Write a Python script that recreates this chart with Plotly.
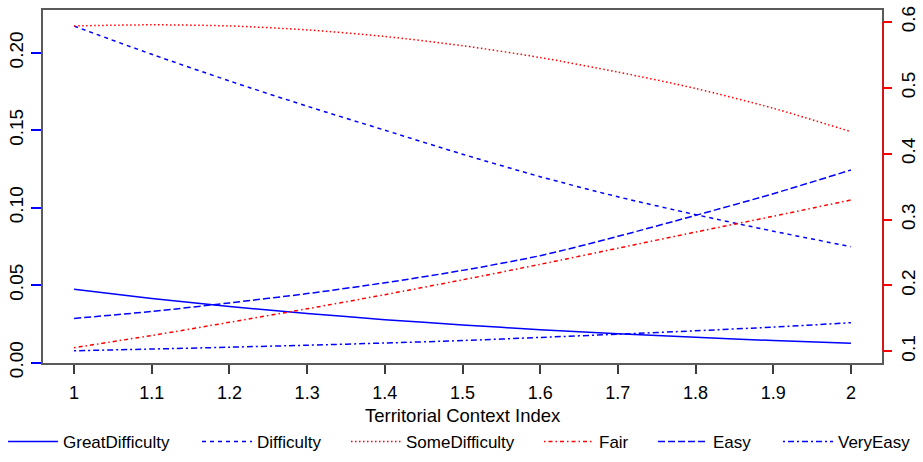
import plotly.graph_objects as go

x_vals = [1.0, 1.1, 1.2, 1.3, 1.4, 1.5, 1.6, 1.7, 1.8, 1.9, 2.0]

great_difficulty = [0.0473, 0.0414, 0.0362, 0.0317, 0.0277, 0.0243, 0.0212, 0.0186, 0.0163, 0.0142, 0.0124]
difficulty = [0.2172, 0.1990, 0.1818, 0.1655, 0.1500, 0.1345, 0.1200, 0.1070, 0.0955, 0.0848, 0.0748]
easy = [0.0285, 0.0330, 0.0385, 0.0445, 0.0515, 0.0595, 0.0690, 0.0815, 0.0950, 0.1090, 0.1243]
very_easy = [0.0076, 0.0087, 0.0099, 0.0112, 0.0126, 0.0142, 0.0162, 0.0183, 0.0205, 0.0229, 0.0257]
some_difficulty = [0.5940, 0.5957, 0.5940, 0.5880, 0.5780, 0.5640, 0.5460, 0.5240, 0.4990, 0.4690, 0.4334]
fair = [0.1055, 0.1240, 0.1440, 0.1645, 0.1860, 0.2085, 0.2320, 0.2565, 0.2810, 0.3050, 0.3297]

left_ticks = [0.00, 0.05, 0.10, 0.15, 0.20]
right_ticks = [0.1, 0.2, 0.3, 0.4, 0.5, 0.6]
x_ticks = [1.0, 1.1, 1.2, 1.3, 1.4, 1.5, 1.6, 1.7, 1.8, 1.9, 2.0]
x_tick_text = ["1", "1.1", "1.2", "1.3", "1.4", "1.5", "1.6", "1.7", "1.8", "1.9", "2"]
x_title = "Territorial Context Index"

BLUE = "rgb(0,0,255)"
RED = "rgb(255,0,0)"
FONT = "Liberation Sans, Arial, sans-serif"

# layout geometry (pixels)
W, H = 923, 462
ML, MR, MT, MB = 43, 41, 10, 99
PW, PH = W - ML - MR, H - MT - MB
legend_left_px = [3, 197, 346, 539, 653, 778]

fig = go.Figure()

series = [
    ("GreatDifficulty", great_difficulty, BLUE, "solid", "y"),
    ("Difficulty", difficulty, BLUE, "4px,4px", "y"),
    ("SomeDifficulty", some_difficulty, RED, "1.5px,2.5px", "y2"),
    ("Fair", fair, RED, "1.5px,3px,4px,3px", "y2"),
    ("Easy", easy, BLUE, "7px,3px", "y"),
    ("VeryEasy", very_easy, BLUE, "2px,3px,6px,3px", "y"),
]
legend_layouts = {}
for i, (name, vals, col, dash, ax) in enumerate(series):
    lg = "legend" if i == 0 else f"legend{i + 1}"
    fig.add_trace(go.Scatter(
        x=x_vals, y=vals, name=name, mode="lines", yaxis=ax, legend=lg,
        line=dict(color=col, width=1.5, dash=dash, shape="spline", smoothing=0.8),
    ))
    legend_layouts[lg] = dict(
        orientation="h", x=(legend_left_px[i] - ML) / PW, xanchor="left",
        y=-0.224, yanchor="middle",
        font=dict(size=17, color="black"), bgcolor="rgba(0,0,0,0)",
        itemwidth=50,
    )

fig.update_layout(
    width=W, height=H,
    margin=dict(l=ML, r=MR, t=MT, b=MB, autoexpand=False),
    paper_bgcolor="white", plot_bgcolor="white",
    font=dict(family=FONT, size=17, color="black"),
    showlegend=True,
    xaxis=dict(
        range=[0.96, 2.04], tickvals=x_ticks, ticktext=x_tick_text,
        showline=True, mirror=True, linecolor="rgb(90,90,90)", linewidth=2,
        ticks="outside", ticklen=9, tickwidth=2, tickcolor="rgb(60,60,60)",
        showgrid=False, zeroline=False, ticklabelstandoff=3,
        tickfont=dict(size=18),
    ),
    yaxis=dict(
        range=[-0.0003, 0.2276], tickvals=left_ticks, tickformat=".2f",
        tickangle=-90, ticks="outside", ticklen=10, tickwidth=1.5, tickcolor=BLUE,
        showline=True, mirror=True, linecolor="rgb(90,90,90)", linewidth=2,
        showgrid=False, zeroline=False, tickfont=dict(size=19),
    ),
    yaxis2=dict(
        range=[0.0822, 0.6182], tickvals=right_ticks, tickformat=".1f",
        overlaying="y", side="right", anchor="x",
        tickangle=-90, ticks="outside", ticklen=9, tickwidth=1.5, tickcolor=RED,
        showline=False, showgrid=False, zeroline=False, tickfont=dict(size=19),
    ),
    shapes=[dict(type="line", xref="paper", yref="y2", x0=1.0012, x1=1.0012,
                 y0=right_ticks[0], y1=right_ticks[-1], line=dict(color=RED, width=1.5))],
    annotations=[dict(text=x_title, xref="paper", yref="paper", x=0.5, y=(MT + PH - 415) / PH,
                      xanchor="center", yanchor="middle", showarrow=False,
                      font=dict(size=18.5, color="black"))],
    **legend_layouts,
)

fig.write_html("out.html")
